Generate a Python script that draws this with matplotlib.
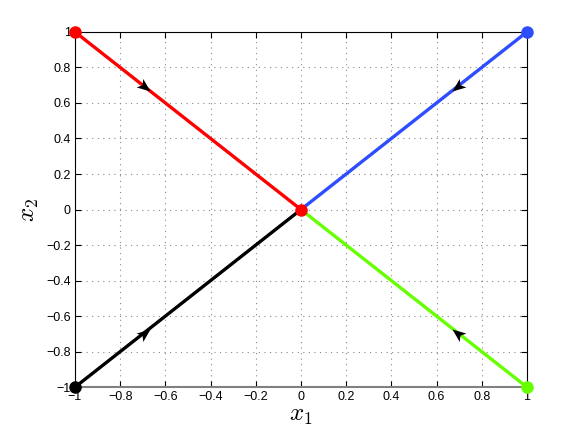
import matplotlib
matplotlib.use("Agg")
import matplotlib.pyplot as plt
import numpy as np
from matplotlib.path import Path

plt.rcParams['font.family'] = ['Liberation Sans', 'DejaVu Sans']
plt.rcParams['mathtext.fontset'] = 'cm'

# trajectories: start point -> origin
starts_x = [-1, 1, -1, 1]
starts_y = [1, 1, -1, -1]
colors = ['#ff0000', '#2e4dff', '#000000', '#66ff00']
arrow_frac = 0.67  # where the arrowhead sits along each line
ticks = [-1, -0.8, -0.6, -0.4, -0.2, 0, 0.2, 0.4, 0.6, 0.8, 1]
tick_labels = ['\u22121', '\u22120.8', '\u22120.6', '\u22120.4', '\u22120.2', '0',
               '0.2', '0.4', '0.6', '0.8', '1']


def arrow_marker(angle):
    # notched arrowhead pointing along +x, then rotated
    v = np.array([[0, 0], [-1, 0.4], [-0.75, 0], [-1, -0.4], [0, 0]])
    c, s = np.cos(angle), np.sin(angle)
    r = v @ np.array([[c, s], [-s, c]])
    return Path(r, [Path.MOVETO, Path.LINETO, Path.LINETO, Path.LINETO, Path.CLOSEPOLY])


fig = plt.figure(figsize=(5.81, 4.37), dpi=100)
ax = fig.add_axes([0.129, 0.114, 0.778, 0.813])
ax_w = 0.778 * 5.81
ax_h = 0.813 * 4.37

for x0, y0, col in zip(starts_x, starts_y, colors):
    ax.plot([x0, 0], [y0, 0], color=col, lw=2.4, zorder=3)
    ax.plot(x0, y0, 'o', color=col, ms=8, zorder=4, clip_on=False)
    ang = np.arctan2(-y0 * ax_h, -x0 * ax_w)
    ax.plot(x0 * arrow_frac, y0 * arrow_frac, marker=arrow_marker(ang),
            color='k', ms=20, mew=0, zorder=5)

ax.plot(0, 0, 'o', color='#ff0000', ms=8, zorder=6)

ax.set_xlim(-1, 1)
ax.set_ylim(-1, 1)
ax.set_xticks(ticks)
ax.set_xticklabels(tick_labels)
ax.set_yticks(ticks)
ax.set_yticklabels(tick_labels)
ax.tick_params(direction='in', length=4, labelsize=9, top=True, right=True, pad=3)
ax.grid(True, linestyle=(0, (1, 4)), color='#888888', lw=0.8)
ax.spines['bottom'].set_color('#808080')
ax.spines['bottom'].set_linewidth(1.5)

ax.set_xlabel('$x_1$', fontsize=18, labelpad=0)
ax.set_ylabel('$x_2$', fontsize=18, labelpad=4)

fig.savefig('out.png', dpi=100)
